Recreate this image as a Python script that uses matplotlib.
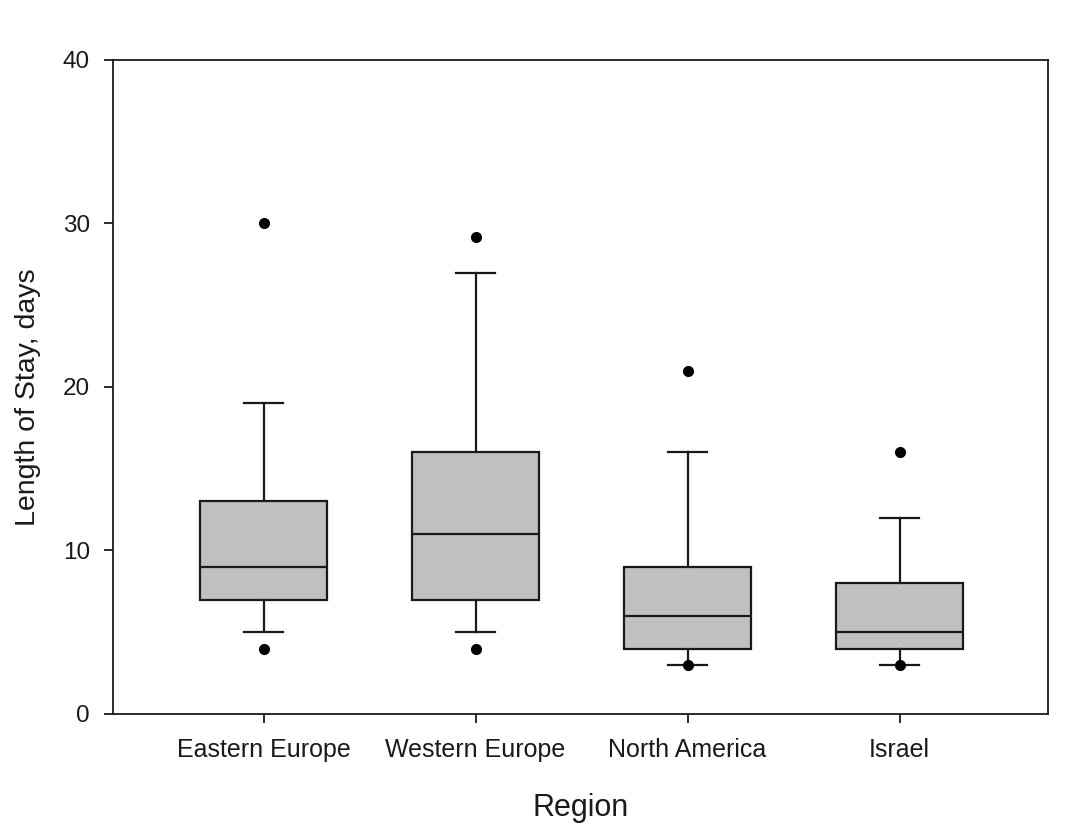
import matplotlib.pyplot as plt

plt.rcParams['font.family'] = ['Liberation Sans', 'DejaVu Sans']

regions = ["Eastern Europe", "Western Europe", "North America", "Israel"]
whisker_low = [5, 5, 3, 3]
q1 = [7, 7, 4, 4]
median = [9, 11, 6, 5]
q3 = [13, 16, 9, 8]
whisker_high = [19, 27, 16, 12]
outliers = [[30, 4], [29.2, 4], [21, 3], [16, 3]]

stats = []
for i in range(len(regions)):
    stats.append({
        "label": regions[i],
        "whislo": whisker_low[i],
        "q1": q1[i],
        "med": median[i],
        "q3": q3[i],
        "whishi": whisker_high[i],
        "fliers": outliers[i],
    })

fig = plt.figure(figsize=(10.7, 8.26), dpi=100)
ax = fig.add_axes([0.1056, 0.1356, 0.8738, 0.7918])

lw = 1.6
ax.bxp(stats, positions=[1, 2, 3, 4], widths=0.6, capwidths=0.185,
       patch_artist=True, showfliers=True,
       boxprops=dict(facecolor="#c0c0c0", edgecolor="#1a1a1a", linewidth=lw),
       medianprops=dict(color="#1a1a1a", linewidth=lw),
       whiskerprops=dict(color="#1a1a1a", linewidth=lw),
       capprops=dict(color="#1a1a1a", linewidth=lw),
       flierprops=dict(marker="o", markerfacecolor="black", markeredgecolor="black",
                       markersize=7, linestyle="none"))

ax.set_xlim(0.29, 4.70)
ax.set_ylim(0, 40)
ax.set_yticks([0, 10, 20, 30, 40])
ax.tick_params(axis="both", direction="out", length=6.5, width=1.3, labelsize=17.5,
               colors="#1a1a1a")
ax.tick_params(axis="y", pad=10)
ax.tick_params(axis="x", pad=11, labelsize=18)
for s in ax.spines.values():
    s.set_linewidth(1.3)
    s.set_color("#1a1a1a")

ax.set_xlabel("Region", fontsize=22, labelpad=22, color="#1a1a1a")
ax.set_ylabel("Length of Stay, days", fontsize=20.5, color="#1a1a1a")
ax.yaxis.set_label_coords(-0.077, 0.485)

fig.savefig("out.png", dpi=100)
